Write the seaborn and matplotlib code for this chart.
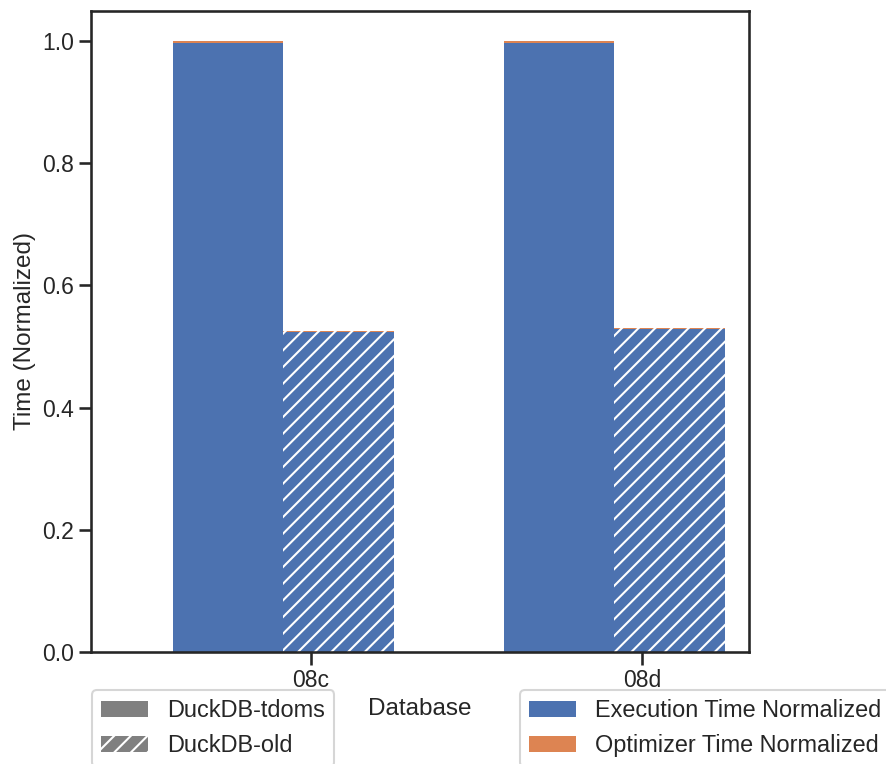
import numpy as np
import pandas as pd
import matplotlib
matplotlib.use("Agg")
import matplotlib.pyplot as plt
from matplotlib.patches import Patch
import seaborn as sns

queries = ["08c", "08d"]
databases = ["DuckDB-tdoms", "DuckDB-old"]
exec_tdoms = [0.996, 0.996]
opt_tdoms = [0.004, 0.004]
exec_old = [0.524, 0.528]
opt_old = [0.001, 0.002]
components = ["Execution Time Normalized", "Optimizer Time Normalized"]

sns.set_theme(style="ticks", context="talk")
plt.rcParams["font.family"] = ["Liberation Sans", "DejaVu Sans"]
plt.rcParams["hatch.linewidth"] = 1.5

blue, orange = sns.color_palette("deep")[0], sns.color_palette("deep")[1]

fig = plt.figure(figsize=(8.87, 7.64), dpi=100)
ax = fig.add_axes([91 / 887, (764 - 652) / 764, (749 - 91) / 887, (652 - 11) / 764])

width = 1 / 3
offsets = [-0.75 * width, 0.25 * width]
hatches = ["", "//"]
series = [(exec_tdoms, opt_tdoms), (exec_old, opt_old)]

for (ex, op), off, h in zip(series, offsets, hatches):
    pos = [i + off for i in range(len(queries))]
    total = [a + b for a, b in zip(ex, op)]
    df = pd.DataFrame({"pos": pos, "total": total, "exec": ex})
    sns.barplot(data=df, x="pos", y="total", native_scale=True, color=orange,
                saturation=1, width=width, errorbar=None, hatch=h,
                edgecolor="white", linewidth=0, ax=ax)
    sns.barplot(data=df, x="pos", y="exec", native_scale=True, color=blue,
                saturation=1, width=width, errorbar=None, hatch=h,
                edgecolor="white", linewidth=0, ax=ax)

ax.set_xticks(range(len(queries)))
ax.set_xticklabels(queries)
ax.set_xlim(-0.664, 1.324)
ax.set_ylim(0, 1.049)
ax.set_yticks([0.0, 0.2, 0.4, 0.6, 0.8, 1.0])
ax.tick_params(labelsize=16.5)
ax.set_xlabel("Database", fontsize=17.5)
ax.set_ylabel("Time (Normalized)", fontsize=17.5)
for s in ax.spines.values():
    s.set_visible(True)

db_handles = [Patch(facecolor="gray", edgecolor="white", linewidth=0, hatch=h) for h in hatches]
comp_handles = [Patch(facecolor=blue, linewidth=0), Patch(facecolor=orange, linewidth=0)]

fig.legend(db_handles, databases, loc="upper left", bbox_to_anchor=(92 / 887, 1 - 690 / 764),
           borderaxespad=0, fontsize=16.9)
fig.legend(comp_handles, components, loc="upper left", bbox_to_anchor=(520 / 887, 1 - 690 / 764),
           borderaxespad=0, fontsize=16.9)

fig.savefig("out.png", dpi=100)
